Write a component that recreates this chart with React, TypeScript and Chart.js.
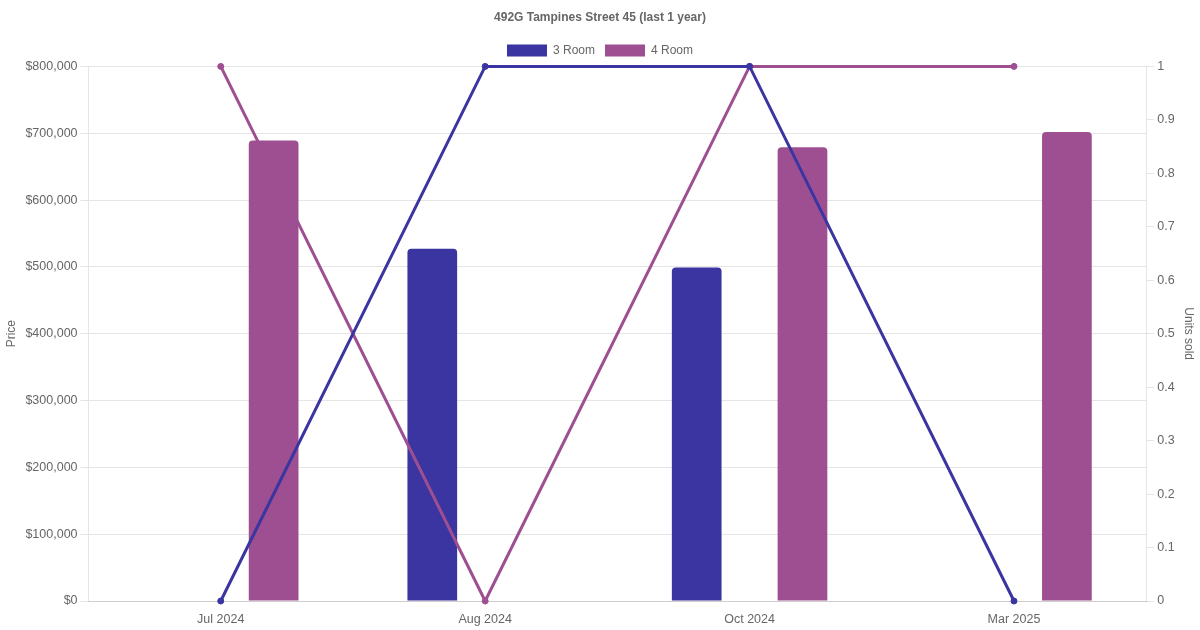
import { useEffect, useRef } from 'react'
import Chart from 'chart.js/auto'

const months = ['Jul 2024', 'Aug 2024', 'Oct 2024', 'Mar 2025']
const price3Room = [null, 527000, 499000, null]
const price4Room = [689000, null, 679000, 702000]
const units3Room = [0, 1, 1, 0]
const units4Room = [1, 0, 1, 1]

const COLOR_3 = '#3a35a0'
const COLOR_4 = '#9e4f92'

export default function App() {
  const canvasRef = useRef<HTMLCanvasElement | null>(null)
  const chartRef = useRef<Chart | null>(null)

  useEffect(() => {
    document.body.style.margin = '0'
    const ctx = canvasRef.current?.getContext('2d')
    if (!ctx) return

    chartRef.current = new Chart(ctx, {
      type: 'bar',
      data: {
        labels: months,
        datasets: [
          {
            type: 'line',
            label: '3 Room units',
            data: units3Room,
            yAxisID: 'units',
            borderColor: COLOR_3,
            backgroundColor: COLOR_3,
            borderWidth: 3,
            pointRadius: 3,
            pointBorderWidth: 1,
            tension: 0,
            clip: false,
            order: 0,
          },
          {
            type: 'line',
            label: '4 Room units',
            data: units4Room,
            yAxisID: 'units',
            borderColor: COLOR_4,
            backgroundColor: COLOR_4,
            borderWidth: 3,
            pointRadius: 3,
            pointBorderWidth: 1,
            tension: 0,
            clip: false,
            order: 0,
          },
          {
            type: 'bar',
            label: '3 Room',
            data: price3Room,
            yAxisID: 'price',
            backgroundColor: COLOR_3,
            borderRadius: 4,
            barPercentage: 0.47,
            categoryPercentage: 0.8,
            order: 1,
          },
          {
            type: 'bar',
            label: '4 Room',
            data: price4Room,
            yAxisID: 'price',
            backgroundColor: COLOR_4,
            borderRadius: 4,
            barPercentage: 0.47,
            categoryPercentage: 0.8,
            order: 1,
          },
        ],
      },
      options: {
        responsive: true,
        maintainAspectRatio: false,
        animation: false,
        plugins: {
          title: {
            display: true,
            text: '492G Tampines Street 45 (last 1 year)',
            color: '#666',
            font: { size: 12, weight: 'bold' },
          },
          legend: {
            display: true,
            labels: {
              color: '#666',
              filter: (item) => item.text === '3 Room' || item.text === '4 Room',
            },
          },
        },
        scales: {
          x: {
            grid: { display: false },
            ticks: { color: '#666', font: { size: 12.5 } },
          },
          price: {
            type: 'linear',
            position: 'left',
            beginAtZero: true,
            title: { display: true, text: 'Price', color: '#666' },
            ticks: {
              color: '#666',
              font: { size: 12.5 },
              stepSize: 100000,
              callback: (v) => '$' + Number(v).toLocaleString('en-US'),
            },
          },
          units: {
            type: 'linear',
            position: 'right',
            min: 0,
            max: 1,
            title: { display: true, text: 'Units sold', color: '#666' },
            grid: { drawOnChartArea: false },
            ticks: {
              color: '#666',
              font: { size: 12.5 },
              stepSize: 0.1,
              callback: (v) => String(Number(Number(v).toFixed(1))),
            },
          },
        },
      },
    })

    return () => {
      chartRef.current?.destroy()
      chartRef.current = null
    }
  }, [])

  return (
    <div style={{ width: 1200, height: 630, position: 'relative' }}>
      <canvas ref={canvasRef} />
    </div>
  )
}
